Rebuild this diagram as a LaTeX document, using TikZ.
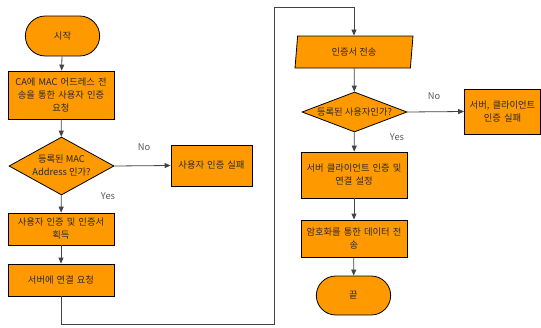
\documentclass[tikz,border=0pt]{standalone}
\usepackage{fontspec}
\setmainfont{Noto Sans CJK KR}
\usetikzlibrary{shapes.geometric,shapes.misc,arrows.meta}
\definecolor{boxfill}{HTML}{FF9900}
\definecolor{linegray}{HTML}{444444}
\definecolor{txtgray}{HTML}{2A2A2A}
\tikzset{
  every node/.style={font=\fontsize{9.3}{13}\selectfont,text=txtgray},
  procbox/.style={draw=black,fill=boxfill,line width=0.8pt,rectangle,inner sep=0pt,align=center,text width=#1},
  procbox/.default=106pt,
  termbox/.style={draw=black,fill=boxfill,line width=0.8pt,rounded rectangle,minimum width=81pt,minimum height=40pt},
  decbox/.style={draw=black,fill=boxfill,line width=0.8pt,diamond,inner sep=0pt,minimum width=105pt},
  iobox/.style={draw=black,fill=boxfill,line width=0.8pt,trapezium,trapezium left angle=72.6,trapezium right angle=107.4,trapezium stretches body,minimum width=118pt,minimum height=32pt,inner sep=0pt},
  flow/.style={draw=linegray,line width=0.8pt,-{Triangle[length=6pt,width=5pt]}},
  answer/.style={text=black!65}
}
\begin{document}
\begin{tikzpicture}[x=1pt,y=-1pt]
        \useasboundingbox (0,0) rectangle (541,327);
        %% left column
        \node[termbox] (start) at (62.5,36) {시작};
        \node[procbox,minimum height=48pt] (req) at (61,95) {CA에 MAC 어드레스 전\\송을 통한 사용자 인증\\요청};
        \node[decbox,minimum height=58pt,label={[align=center]center:등록된 MAC\\Address 인가?}] (chkmac) at (61.5,166) {};
        \node[procbox=81pt,minimum height=41pt] (failuser) at (211.5,165.5) {사용자 인증 실패};
        \node[procbox,minimum height=32pt] (getcert) at (61,229) {사용자 인증 및 인증서\\획득};
        \node[procbox,minimum height=32pt] (reqconn) at (61,280) {서버에 연결 요청};
        %% right column
        \node[iobox] (sendcert) at (354,52) {인증서 전송};
        \node[decbox,minimum height=40pt,label={center:등록된 사용자인가?}] (chkuser) at (354.5,112) {};
        \node[procbox=76pt,minimum height=45pt] (failsrv) at (502.5,111.5) {서버, 클라이언트\\인증 실패};
        \node[procbox,minimum height=46pt] (setup) at (354,175) {서버 클라이언트 인증 및\\연결 설정};
        \node[procbox,minimum height=37pt] (encsend) at (354,238.5) {암호화를 통한 데이터 전\\송};
        \node[termbox,minimum height=39pt] (finish) at (353.5,295.5) {끝};
        %% answers
        \node[answer] (no1) at (144,147) {No};
        \node[answer] (yes1) at (108,196) {Yes};
        \node[answer] (no2) at (434,96) {No};
        \node[answer] (yes2) at (397,137) {Yes};
        %% connectors
        \draw[flow] (start) -- (req);
        \draw[flow] (req) -- (chkmac);
        \draw[flow] (chkmac.east) -- (failuser.west);
        \draw[flow] (chkmac) -- (getcert);
        \draw[flow] (getcert) -- (reqconn);
        \coordinate (loopbot) at (274,324);
        \coordinate (looptop) at (274,7);
        \draw[flow] (reqconn.south) |- (loopbot) -- (looptop) -| (sendcert.north);
        \draw[flow] (sendcert) -- (chkuser);
        \draw[flow] (chkuser.east) -- (failsrv.west);
        \draw[flow] (chkuser) -- (setup);
        \draw[flow] (setup) -- (encsend);
        \draw[flow] (encsend) -- (finish);
    \end{tikzpicture}
\end{document}
